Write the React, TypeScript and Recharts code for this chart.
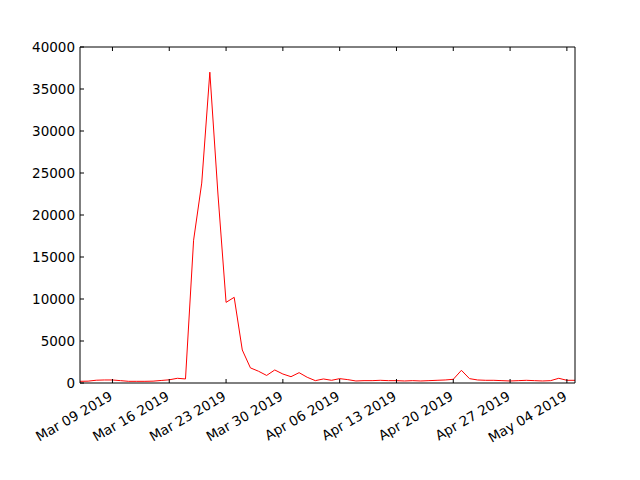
import { Line, LineChart, XAxis, YAxis } from "recharts";

// daily series, starting 2019-03-05
const startDate = "2019-03-05";
const dailyValues = [
  200, 220, 330, 360, 360, 280, 200, 200, 200, 220, 300, 380, 560, 480,
  17000, 23800, 37000, 22500, 9600, 10200, 3930, 1800, 1400, 900, 1550,
  1070, 750, 1230, 680, 280, 480, 320, 520, 400, 240, 280, 280, 320, 280, 280,
  240, 280, 240, 280, 320, 360, 440, 1510, 520, 360, 320, 320, 280, 240, 280,
  320, 280, 240, 280, 560, 320, 320,
];
const tickDates = [
  "2019-03-09", "2019-03-16", "2019-03-23", "2019-03-30", "2019-04-06",
  "2019-04-13", "2019-04-20", "2019-04-27", "2019-05-04",
];
const yTicks = [0, 5000, 10000, 15000, 20000, 25000, 30000, 35000, 40000];

const DAY = 86400000;
const months = ["Jan", "Feb", "Mar", "Apr", "May", "Jun", "Jul", "Aug", "Sep", "Oct", "Nov", "Dec"];
const t0 = Date.parse(startDate);
const dayIndex = (iso: string) => Math.round((Date.parse(iso) - t0) / DAY);

const fmtDay = (d: number) => {
  const dt = new Date(t0 + d * DAY);
  const dd = String(dt.getUTCDate()).padStart(2, "0");
  return `${months[dt.getUTCMonth()]} ${dd} ${dt.getUTCFullYear()}`;
};

const data = dailyValues.map((value, i) => ({ day: i, value }));
const xTicks = tickDates.map(dayIndex);
const xDomain = [0, dailyValues.length - 1];

const FONT = "DejaVu Sans";
const FS = 13.5;
const TICK = 4;

function BottomTick({ x, y, payload }: any) {
  const ax = x + 1;
  const ay = y + 16;
  return (
    <g>
      <line x1={x} y1={y} x2={x} y2={y - TICK} stroke="#000" />
      <text x={ax} y={ay} transform={`rotate(-30, ${ax}, ${ay})`} textAnchor="end" fontSize={FS} fontFamily={FONT} fill="#000">
        {fmtDay(payload.value)}
      </text>
    </g>
  );
}

function TopTick({ x, y }: any) {
  return <line x1={x} y1={y} x2={x} y2={y + TICK} stroke="#000" />;
}

function LeftTick({ x, y, payload }: any) {
  return (
    <g>
      <line x1={x} y1={y} x2={x + TICK} y2={y} stroke="#000" />
      <text x={x - 5} y={y + 5} textAnchor="end" fontSize={FS} fontFamily={FONT} fill="#000">
        {payload.value}
      </text>
    </g>
  );
}

function RightTick({ x, y }: any) {
  return <line x1={x} y1={y} x2={x - TICK} y2={y} stroke="#000" />;
}

export default function App() {
  return (
    <div style={{ position: "absolute", left: 0, top: 0, background: "#fff" }}>
      <LineChart width={640} height={480} data={data} margin={{ top: 46, right: 64, bottom: 0, left: 0 }}>
        <XAxis
          dataKey="day"
          type="number"
          domain={xDomain}
          ticks={xTicks}
          interval={0}
          height={97}
          tickSize={0}
          tickMargin={0}
          tickLine={false}
          axisLine={{ stroke: "#000" }}
          tick={<BottomTick />}
        />
        <XAxis
          xAxisId="top"
          orientation="top"
          dataKey="day"
          type="number"
          domain={xDomain}
          ticks={xTicks}
          interval={0}
          height={1}
          tickSize={0}
          tickMargin={0}
          tickLine={false}
          axisLine={{ stroke: "#000" }}
          tick={<TopTick />}
        />
        <YAxis
          type="number"
          domain={[0, 40000]}
          ticks={yTicks}
          interval={0}
          width={80}
          tickSize={0}
          tickMargin={0}
          tickLine={false}
          axisLine={{ stroke: "#000" }}
          tick={<LeftTick />}
        />
        <YAxis
          yAxisId="right"
          orientation="right"
          type="number"
          domain={[0, 40000]}
          ticks={yTicks}
          interval={0}
          width={1}
          tickSize={0}
          tickMargin={0}
          tickLine={false}
          axisLine={{ stroke: "#000" }}
          tick={<RightTick />}
        />
        <Line
          dataKey="value"
          type="linear"
          stroke="#ff0000"
          strokeWidth={1}
          dot={false}
          isAnimationActive={false}
        />
      </LineChart>
    </div>
  );
}
